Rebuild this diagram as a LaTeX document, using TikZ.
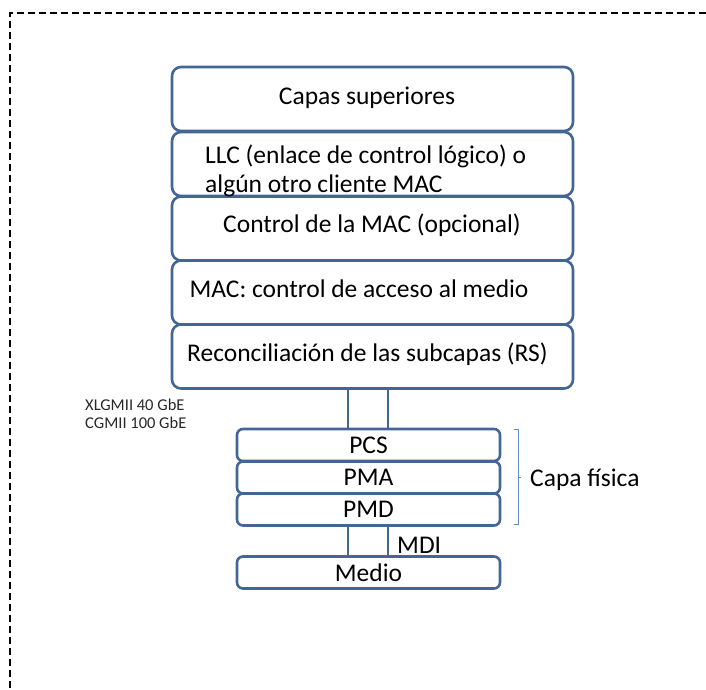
\documentclass[tikz,border=0pt]{standalone}
\usepackage{fontspec}
\setmainfont{Carlito}
\definecolor{boxc}{RGB}{68,102,150}
\definecolor{brkc}{RGB}{100,140,200}
\definecolor{smallc}{RGB}{40,40,40}
\begin{document}
\begin{tikzpicture}[x=1pt,y=-1pt,
  bigbox/.style={draw=boxc, line width=2.6pt, rounded corners=9pt, minimum width=401pt, minimum height=64pt, inner sep=0pt},
  smallbox/.style={draw=boxc, line width=2.6pt, rounded corners=6pt, minimum width=263pt, minimum height=32pt, inner sep=0pt},
  txt/.style={inner sep=0pt, font=\fontsize{25.5}{29}\selectfont},
  smalltxt/.style={inner sep=0pt, text=smallc, font=\fontsize{16.5}{18}\selectfont, anchor=west},
  link/.style={draw=boxc, line width=2.6pt},
  brk/.style={draw=brkc, line width=0.8pt}]
\useasboundingbox (0,0) rectangle (706,689);
\draw[black, line width=1.8pt, dash pattern=on 7pt off 4pt] (706,13) -- (10,13) -- (10,689);
% upper stack
\node[bigbox] (cap) at (372.5,99) {};
\node[bigbox] (llc) at (372.5,164) {};
\node[bigbox] (ctl) at (372.5,228.5) {};
\node[bigbox] (mac) at (372.5,292.5) {};
\node[bigbox] (rs)  at (372.5,356.5) {};
\node[txt] (tcap) at (367,98) {Capas superiores};
\node[txt, anchor=west, align=left] (tllc) at (205,171) {LLC (enlace de control lógico) o\\algún otro cliente MAC};
\node[txt] (tctl) at (372,225) {Control de la MAC (opcional)};
\node[txt] (tmac) at (359,289) {MAC: control de acceso al medio};
\node[txt] (trs) at (367.5,354) {Reconciliación de las subcapas (RS)};
% lower stack
\node[smallbox] (pcs) at (368.5,445) {};
\node[smallbox] (pma) at (368.5,477.5) {};
\node[smallbox] (pmd) at (368.5,509.5) {};
\node[smallbox] (med) at (368.5,572.5) {};
\node[txt] at (pcs) {PCS};
\node[txt] at (pma) {PMA};
\node[txt] at (pmd) {PMD};
\node[txt] at (med) {Medio};
% links
\coordinate (xa) at (348,0);
\coordinate (xb) at (388,0);
\draw[link] (rs.south -| xa) -- (pcs.north -| xa);
\draw[link] (rs.south -| xb) -- (pcs.north -| xb);
\draw[link] (pmd.south -| xa) -- (med.north -| xa);
\draw[link] (pmd.south -| xb) -- (med.north -| xb);
% labels
\node[smalltxt] (xl) at (85,405) {XLGMII 40 GbE};
\node[smalltxt] (cg) at (85,423) {CGMII 100 GbE};
\node[txt, anchor=west] (mdi) at (397,545) {MDI};
% bracket
\draw[brk] (514,429) -- (518,429) -- (518,524) -- (514,524);
\draw[brk] (518,477) -- (521,477);
\node[txt, anchor=west] (cf) at (530,480) {Capa física};
\end{tikzpicture}
\end{document}
